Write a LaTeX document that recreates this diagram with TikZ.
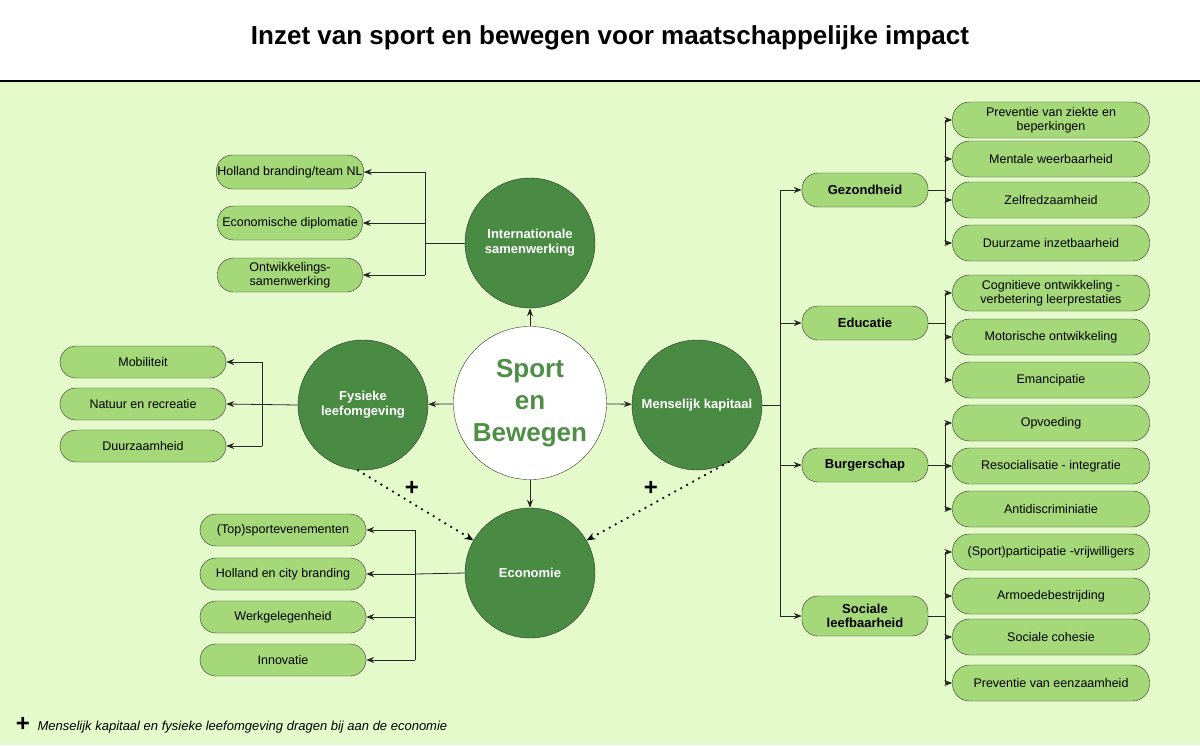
\documentclass[tikz,border=0pt]{standalone}
\usepackage{fontspec}
\setmainfont{Liberation Sans}
\usetikzlibrary{arrows.meta}
\definecolor{bgg}{HTML}{E4FACB}
\definecolor{pillg}{HTML}{A5D879}
\definecolor{circg}{HTML}{4A8B44}
\definecolor{txtg}{HTML}{4E8F45}
\begin{document}
\begin{tikzpicture}[x=1pt,y=-1pt,
 pill/.style={draw=black!80,fill=pillg,rounded corners=16pt,minimum height=34pt,align=center,font=\fontsize{12.5}{14}\selectfont,inner sep=1pt},
 sub/.style={pill,minimum width=197pt,minimum height=36pt,rounded corners=17pt},
 cat/.style={pill,minimum width=126pt,font=\bfseries\fontsize{13}{14}\selectfont},
 circ/.style={circle,draw=black!80,fill=circg,minimum size=130pt,text=white,align=center,font=\bfseries\fontsize{13}{15}\selectfont},
 arr/.style={-{Stealth[length=8pt,width=6pt]},black!85,line width=0.8pt},
 ln/.style={black!85,line width=0.8pt},
 dots/.style={-{Stealth[length=9pt,width=7pt]},line width=1.8pt,dash pattern=on 1.8pt off 5pt}]
\useasboundingbox (0,0) rectangle (1200,745);
\fill[white] (0,0) rectangle (1200,81);
\fill[bgg] (0,81) rectangle (1200,745);
\draw[line width=2pt] (0,81) -- (1200,81);
\node (title) at (610,38) {\bfseries\fontsize{26}{30}\selectfont Inzet van sport en bewegen voor maatschappelijke impact};
% circles
\node[circle,draw=black!80,fill=white,minimum size=140pt,text=txtg,align=center,font=\bfseries\fontsize{26}{32}\selectfont] (c) at (530,403) {Sport\\en\\Bewegen};
\node[circ] (int) at (530,243) {Internationale\\samenwerking};
\node[circ] (fys) at (363,405) {Fysieke\\leefomgeving};
\node[circ] (mk) at (697,405) {Menselijk kapitaal};
\node[circ] (eco) at (530,573) {Economie};
\draw[arr] (c) -- (int); \draw[arr] (c) -- (fys); \draw[arr] (c) -- (mk); \draw[arr] (c) -- (eco);
% internationale
\node[pill,minimum width=145pt] (i1) at (290,172) {Holland branding/team NL};
\node[pill,minimum width=145pt] (i2) at (290,223) {Economische diplomatie};
\node[pill,minimum width=145pt] (i3) at (290,275) {Ontwikkelings-\\samenwerking};
\coordinate (ib) at (425,243);
\draw[ln] (int.west) -- (ib);
\draw[ln] (ib |- i1) -- (ib |- i3);
\foreach \n in {i1,i2,i3} \draw[arr] (ib |- \n) -- (\n.east);
% fysieke
\node[pill,minimum width=166pt,minimum height=32pt] (f1) at (143,362) {Mobiliteit};
\node[pill,minimum width=166pt,minimum height=32pt] (f2) at (143,404) {Natuur en recreatie};
\node[pill,minimum width=166pt,minimum height=32pt] (f3) at (143,446) {Duurzaamheid};
\coordinate (fb) at (262,404);
\draw[arr] (fys.west) -- (f2.east);
\draw[ln] (fb |- f1) -- (fb |- f3);
\draw[arr] (fb |- f1) -- (f1.east); \draw[arr] (fb |- f3) -- (f3.east);
% economie
\node[pill,minimum width=166pt,minimum height=32pt] (e1) at (283,530) {(Top)sportevenementen};
\node[pill,minimum width=166pt,minimum height=32pt] (e2) at (283,574) {Holland en city branding};
\node[pill,minimum width=166pt,minimum height=32pt] (e3) at (283,617) {Werkgelegenheid};
\node[pill,minimum width=166pt,minimum height=32pt] (e4) at (283,660) {Innovatie};
\coordinate (eb) at (415,574);
\draw[ln] (eco.west) -- (eb);
\draw[ln] (eb |- e1) -- (eb |- e4);
\foreach \n in {e1,e2,e3,e4} \draw[arr] (eb |- \n) -- (\n.east);
% menselijk kapitaal
\node[cat] (g) at (865,190) {Gezondheid};
\node[cat] (ed) at (865,323) {Educatie};
\node[cat] (b) at (865,465) {Burgerschap};
\node[cat,minimum height=40pt] (s) at (865,616) {Sociale\\leefbaarheid};
\coordinate (mb) at (780,405);
\draw[ln] (mk.east) -- (mb);
\draw[ln] (mb |- g) -- (mb |- s);
\foreach \n in {g,ed,b,s} \draw[arr] (mb |- \n) -- (\n.west);
% subs
\node[sub] (g1) at (1051,120) {Preventie van ziekte en\\beperkingen};
\node[sub] (g2) at (1051,159) {Mentale weerbaarheid};
\node[sub] (g3) at (1051,200) {Zelfredzaamheid};
\node[sub] (g4) at (1051,243) {Duurzame inzetbaarheid};
\node[sub] (d1) at (1051,293) {Cognitieve ontwikkeling -\\verbetering leerprestaties};
\node[sub] (d2) at (1051,337) {Motorische ontwikkeling};
\node[sub] (d3) at (1051,380) {Emancipatie};
\node[sub] (b1) at (1051,423) {Opvoeding};
\node[sub] (b2) at (1051,466) {Resocialisatie - integratie};
\node[sub] (b3) at (1051,509) {Antidiscriminiatie};
\node[sub] (s1) at (1051,552) {(Sport)participatie -vrijwilligers};
\node[sub] (s2) at (1051,596) {Armoedebestrijding};
\node[sub] (s3) at (1051,637) {Sociale cohesie};
\node[sub] (s4) at (1051,683) {Preventie van eenzaamheid};
\coordinate (gx) at (945,190);
\draw[ln] (g.east) -- (gx); \draw[ln] (gx |- g1) -- (gx |- g4);
\foreach \n in {g1,g2,g3,g4} \draw[arr] (gx |- \n) -- (\n.west);
\coordinate (dx) at (945,323);
\draw[ln] (ed.east) -- (dx); \draw[ln] (dx |- d1) -- (dx |- d3);
\foreach \n in {d1,d2,d3} \draw[arr] (dx |- \n) -- (\n.west);
\coordinate (bx) at (945,465);
\draw[ln] (b.east) -- (bx); \draw[ln] (bx |- b1) -- (bx |- b3);
\foreach \n in {b1,b2,b3} \draw[arr] (bx |- \n) -- (\n.west);
\coordinate (sx) at (945,616);
\draw[ln] (s.east) -- (sx); \draw[ln] (sx |- s1) -- (sx |- s4);
\foreach \n in {s1,s2,s3,s4} \draw[arr] (sx |- \n) -- (\n.west);
% dotted
\draw[dots] (fys.-95) -- (eco.150);
\draw[dots] (mk.-60) -- (eco.30);
\node (p1) at (412,488) {\bfseries\fontsize{24}{24}\selectfont +};
\node (p2) at (651,488) {\bfseries\fontsize{24}{24}\selectfont +};
\node (p3) at (23,724) {\bfseries\fontsize{24}{24}\selectfont +};
\node[anchor=west] (fn) at (34,727) {\itshape\fontsize{13}{14}\selectfont Menselijk kapitaal en fysieke leefomgeving dragen bij aan de economie};
\end{tikzpicture}
\end{document}
